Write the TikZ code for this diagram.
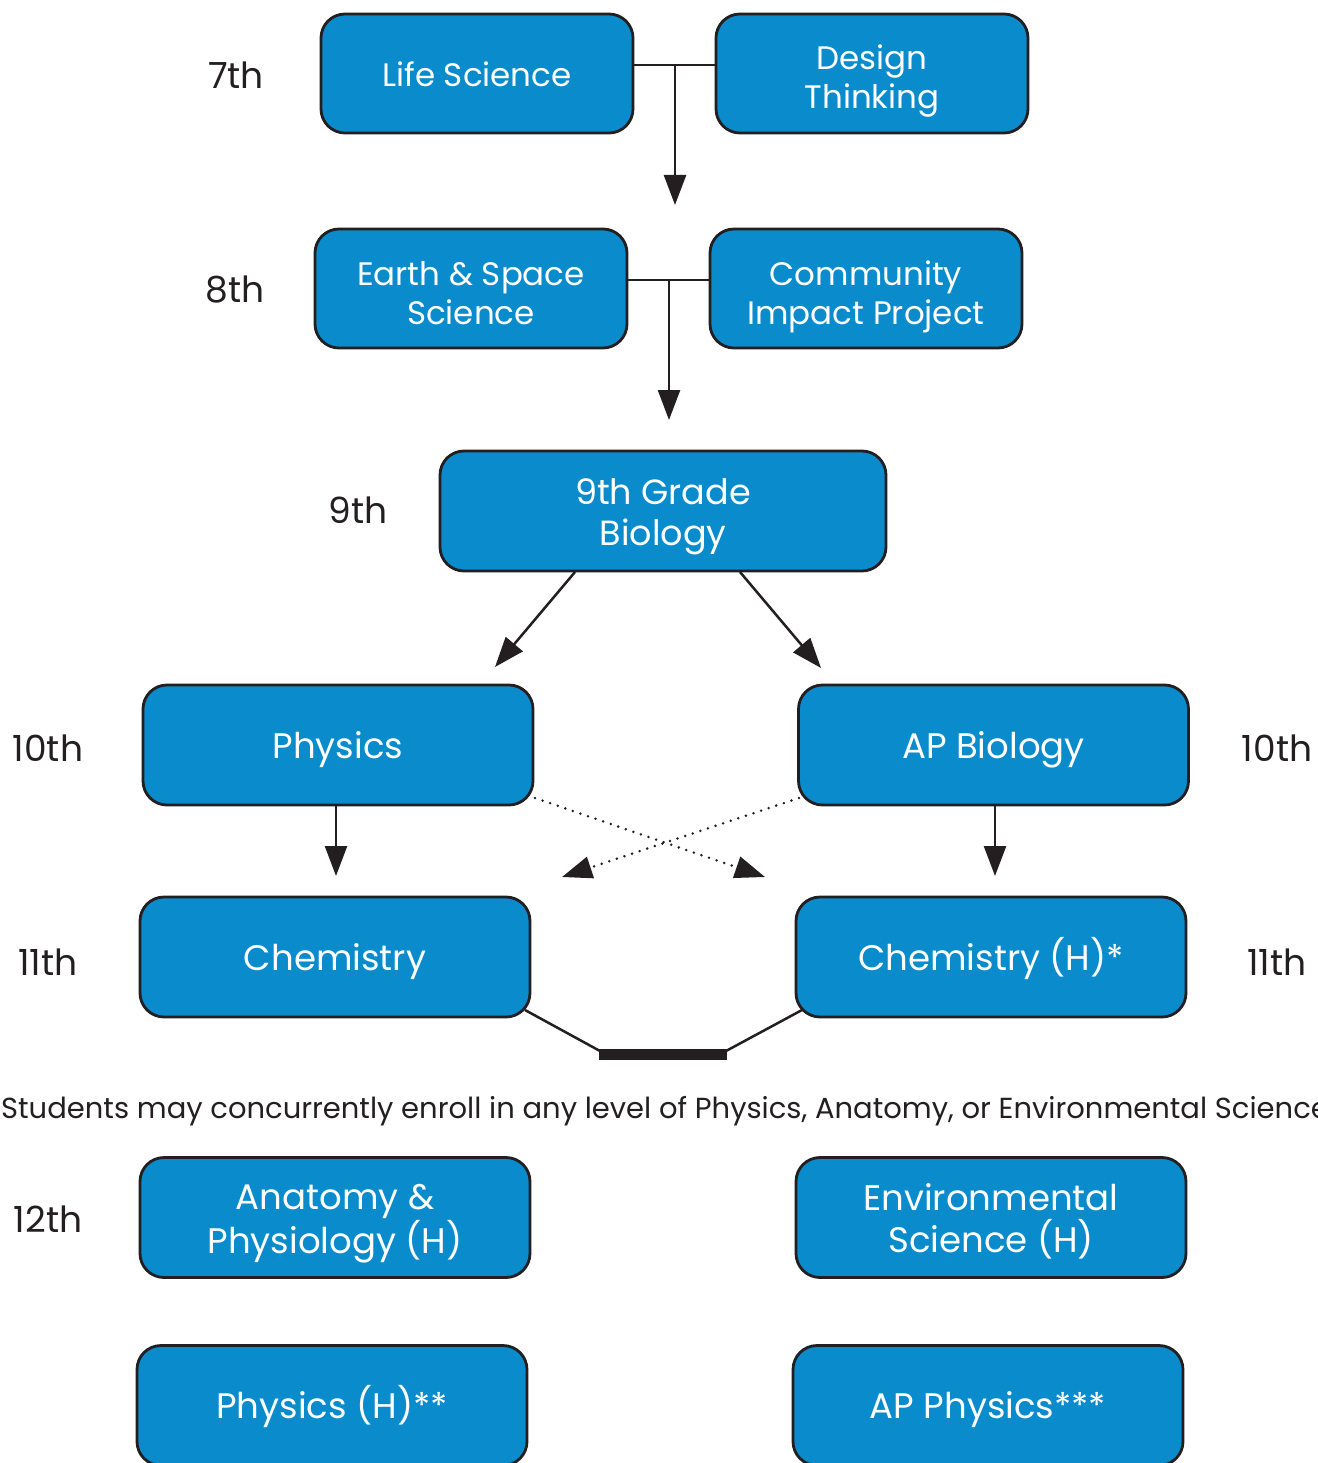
\documentclass[tikz,border=0pt]{standalone}
\usepackage{fontspec}
\setmainfont{Poppins}
\usetikzlibrary{arrows.meta}
\definecolor{boxblue}{RGB}{9,139,204}
\definecolor{ink}{RGB}{35,31,32}
\newcommand\tp{\rule{0pt}{42pt}}
\newcommand\tpw{\rule{0pt}{38pt}}
\newcommand\tps{\rule{0pt}{36pt}}
\newcommand\bt{\rule[-10pt]{0pt}{10pt}}
\begin{document}
\begin{tikzpicture}[x=1pt,y=-1pt,
  box/.style={draw=ink, fill=boxblue, line width=2.8pt, rounded corners=24pt,
    minimum width=312pt, minimum height=119pt, text=white, align=center,
    inner sep=0pt, font=\fontsize{32.5}{39}\selectfont},
  widebox/.style={box, minimum width=390pt, minimum height=120pt, font=\fontsize{35.5}{42}\selectfont},
  grade/.style={text=ink, font=\fontsize{36}{40}\selectfont, inner sep=0pt},
  conn/.style={draw=ink, line width=2.5pt},
  arr/.style={conn, -{Triangle[length=30pt,width=22pt]}},
  dotarr/.style={draw=ink, line width=2.8pt, line cap=round, dash pattern=on 0pt off 8pt,
    -{Triangle[length=30pt,width=22pt]}}
]
\useasboundingbox (0,0) rectangle (1317,1463);
\clip (0,0) rectangle (1317,1463);

% grade labels
\node[grade] (g7) at (236,75) {7th};
\node[grade] (g8) at (235,290) {8th};
\node[grade] (g9) at (358,510) {9th};
\node[grade] (g10a) at (48,748) {10th};
\node[grade] (g10b) at (1277,748) {10th};
\node[grade] (g11a) at (48,962) {11th};
\node[grade] (g11b) at (1277,962) {11th};
\node[grade] (g12) at (48,1219) {12th};

% boxes
\node[box] (ls) at (477,73.5) {\tps Life Science\bt};
\node[box] (dt) at (872,73.5) {\tp Design\\Thinking\bt};
\node[box] (es) at (471,288.5) {\tp Earth \& Space\\Science\bt};
\node[box] (cip) at (866,288.5) {\tp Community\\Impact Project\bt};
\node[box, minimum width=446pt, minimum height=120pt, font=\fontsize{35}{41}\selectfont] (bio) at (663,511) {\tpw 9th Grade\\Biology\bt};
\node[widebox] (phy) at (338,745) {\tps Physics\bt};
\node[widebox] (apb) at (993.5,745) {\tps AP Biology\bt};
\node[widebox] (chem) at (335,957) {\tps Chemistry\bt};
\node[widebox] (chemh) at (991,957) {\tps Chemistry (H)*\bt};
\node[widebox] (anat) at (335,1217.5) {\tpw Anatomy \&\\Physiology (H)\bt};
\node[widebox] (env) at (991,1217.5) {\tpw Environmental\\Science (H)\bt};
\node[widebox] (phyh) at (332,1405.5) {\tps Physics (H)**\bt};
\node[widebox] (app) at (988,1405.5) {\tps AP Physics***\bt};

% note
\node[text=ink, font=\fontsize{29}{34}\selectfont, inner sep=0pt] (note) at (665,1111)
  {Students may concurrently enroll in any level of Physics, Anatomy, or Environmental Science};

% 7th -> 8th
\coordinate (j1) at (675,65);
\coordinate (t1) at (675,205);
\draw[conn] (ls.east |- j1) -- (dt.west |- j1);
\draw[arr] (j1) -- (t1);

% 8th -> 9th
\coordinate (j2) at (669,280);
\coordinate (t2) at (669,420);
\draw[conn] (es.east |- j2) -- (cip.west |- j2);
\draw[arr] (j2) -- (t2);

% 9th -> 10th
\coordinate (b1) at (575,572);
\coordinate (t3) at (495,667);
\coordinate (b2) at (740,572);
\coordinate (t4) at (821,668);
\draw[arr] (b1) -- (t3);
\draw[arr] (b2) -- (t4);

% 10th -> 11th
\coordinate (t5) at (336,876);
\coordinate (t6) at (995,876);
\draw[arr] (phy.south -| t5) -- (t5);
\draw[arr] (apb.south -| t6) -- (t6);

% dotted cross
\coordinate (d1) at (535,798);
\coordinate (dt1) at (765,877);
\coordinate (d2) at (799,798);
\coordinate (dt2) at (562,877);
\draw[dotarr] (d1) -- (dt1);
\draw[dotarr] (d2) -- (dt2);

% bracket below 11th
\coordinate (k1) at (525,1010);
\coordinate (k2) at (600,1051);
\coordinate (k3) at (726,1051);
\coordinate (k4) at (802,1010);
\draw[conn] (k1) -- (k2);
\draw[conn] (k3) -- (k4);
\fill[ink] (599,1049) rectangle (727,1060);
\end{tikzpicture}
\end{document}
